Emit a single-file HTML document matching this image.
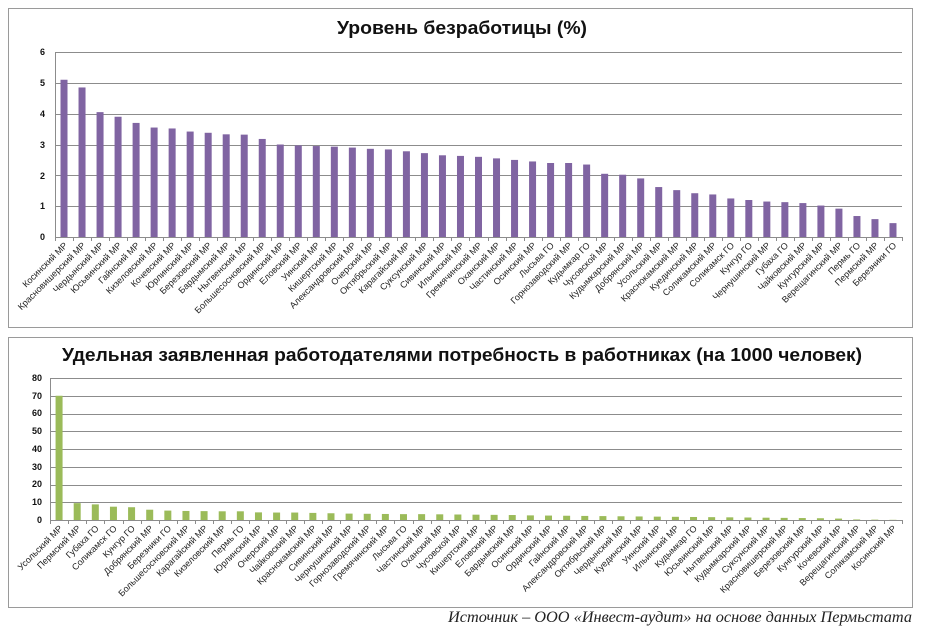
<!DOCTYPE html>
<html><head><meta charset="utf-8">
<style>
html,body{margin:0;padding:0;background:#fff;}
svg{display:block;font-family:"Liberation Sans","DejaVu Sans",sans-serif;}
.t1 text{font-size:9px;fill:#222;}
.ax{font-size:9px;font-weight:bold;fill:#111;}
</style></head>
<body>
<svg id="s" width="930" height="630" viewBox="0 0 930 630" xmlns="http://www.w3.org/2000/svg">
<rect x="8.5" y="8.5" width="904" height="319" fill="#fff" stroke="#9a9a9a"/>
<rect x="8.5" y="337.5" width="904" height="270" fill="#fff" stroke="#9a9a9a"/>
<text x="462" y="34" text-anchor="middle" font-size="18" font-weight="bold" fill="#111" textLength="250" lengthAdjust="spacingAndGlyphs">Уровень безработицы (%)</text>
<text x="462" y="361" text-anchor="middle" font-size="18" font-weight="bold" fill="#111" textLength="800" lengthAdjust="spacingAndGlyphs">Удельная заявленная работодателями потребность в работниках (на 1000 человек)</text>
<text x="912" y="622" text-anchor="end" font-family="Liberation Serif, serif" font-style="italic" font-size="15.5" fill="#222" textLength="464" lengthAdjust="spacingAndGlyphs">Источник – ООО «Инвест-аудит» на основе данных Пермьстата</text>
<g id="g1"></g><g id="g2"></g>
<g class="t1" id="l1">
<text>Косинский  МР</text><text>Красновишерский МР</text><text>Чердынский МР</text><text>Юсьвинский МР</text><text>Гайнский МР</text><text>Кизеловский МР</text><text>Кочевский МР</text><text>Юрлинский МР</text><text>Березовский МР</text><text>Бардымский МР</text><text>Нытвенский МР</text><text>Большесосновский МР</text><text>Ординский МР</text><text>Еловский МР</text><text>Уинский МР</text><text>Кишертский МР</text><text>Александровский МР</text><text>Очерский МР</text><text>Октябрьский МР</text><text>Карагайский МР</text><text>Суксунский МР</text><text>Сивинский МР</text><text>Ильинский МР</text><text>Гремячинский МР</text><text>Оханский МР</text><text>Частинский МР</text><text>Осинский МР</text><text>Лысьва ГО</text><text>Горнозаводский МР</text><text>Кудымкар ГО</text><text>Чусовской МР</text><text>Кудымкарский МР</text><text>Добрянский МР</text><text>Усольский МР</text><text>Краснокамский МР</text><text>Куединский МР</text><text>Соликамский МР</text><text>Соликамск ГО</text><text>Кунгур ГО</text><text>Чернушинский МР</text><text>Губаха ГО</text><text>Чайковский МР</text><text>Кунгурский МР</text><text>Верещагинский МР</text><text>Пермь ГО</text><text>Пермский МР</text><text>Березники ГО</text>
</g>
<g class="t1" id="l2">
<text>Усольский МР</text><text>Пермский МР</text><text>Губаха ГО</text><text>Соликамск ГО</text><text>Кунгур ГО</text><text>Добрянский МР</text><text>Березники ГО</text><text>Большесосновский МР</text><text>Карагайский МР</text><text>Кизеловский МР</text><text>Пермь ГО</text><text>Юрлинский МР</text><text>Очерский МР</text><text>Чайковский МР</text><text>Краснокамский МР</text><text>Сивинский МР</text><text>Чернушинский МР</text><text>Горнозаводский МР</text><text>Гремячинский МР</text><text>Лысьва ГО</text><text>Частинский МР</text><text>Оханский МР</text><text>Чусовской МР</text><text>Кишертский МР</text><text>Еловский МР</text><text>Бардымский МР</text><text>Осинский МР</text><text>Ординский МР</text><text>Гайнский МР</text><text>Александровский МР</text><text>Октябрьский МР</text><text>Чердынский МР</text><text>Куединский МР</text><text>Уинский МР</text><text>Ильинский МР</text><text>Кудымкар ГО</text><text>Юсьвинский МР</text><text>Нытвенский МР</text><text>Кудымкарский МР</text><text>Суксунский МР</text><text>Красновишерский МР</text><text>Березовский МР</text><text>Кунгурский МР</text><text>Кочевский МР</text><text>Верещагинский МР</text><text>Соликамский МР</text><text>Косинский  МР</text>
</g>
<g id="ax1"><text class="ax" x="45" y="55" text-anchor="end">6</text><text class="ax" x="45" y="86" text-anchor="end">5</text><text class="ax" x="45" y="117" text-anchor="end">4</text><text class="ax" x="45" y="148" text-anchor="end">3</text><text class="ax" x="45" y="179" text-anchor="end">2</text><text class="ax" x="45" y="209" text-anchor="end">1</text><text class="ax" x="45" y="240" text-anchor="end">0</text></g>
<g id="ax2"><text class="ax" x="42" y="381" text-anchor="end">80</text><text class="ax" x="42" y="399" text-anchor="end">70</text><text class="ax" x="42" y="416" text-anchor="end">60</text><text class="ax" x="42" y="434" text-anchor="end">50</text><text class="ax" x="42" y="452" text-anchor="end">40</text><text class="ax" x="42" y="470" text-anchor="end">30</text><text class="ax" x="42" y="487" text-anchor="end">20</text><text class="ax" x="42" y="505" text-anchor="end">10</text><text class="ax" x="42" y="523" text-anchor="end">0</text></g>
</svg>
<script>
var NS="http://www.w3.org/2000/svg";
function el(p,n,a){var e=document.createElementNS(NS,n);for(var k in a)e.setAttribute(k,a[k]);p.appendChild(e);return e;}
function chart(g,lab,vals,x0,x1,y0,ytop,max,step,color){
  var n=vals.length,w=(x1-x0)/n,sc=(y0-ytop)/max;
  for(var v=step;v<=max;v+=step){var y=Math.round(y0-v*sc)+0.5;el(g,"line",{x1:x0,x2:x1,y1:y,y2:y,stroke:"#8c8c8c","stroke-width":1});}
  el(g,"line",{x1:x0+0.5,x2:x0+0.5,y1:ytop,y2:y0+4,stroke:"#8c8c8c"});
  el(g,"line",{x1:x0,x2:x1,y1:y0+0.5,y2:y0+0.5,stroke:"#8c8c8c"});
  for(var i=0;i<=n;i++){var x=Math.round(x0+i*w)+0.5;el(g,"line",{x1:x,x2:x,y1:y0,y2:y0+4,stroke:"#8c8c8c"});}
  var ts=document.getElementById(lab).getElementsByTagName("text");
  for(var i=0;i<n;i++){var cx=x0+(i+0.5)*w,h=vals[i]*sc;
    el(g,"rect",{x:cx-3.5,y:y0-h,width:7,height:h,fill:color});
    var t=ts[i];t.setAttribute("text-anchor","end");t.setAttribute("transform","translate("+(cx+4)+","+(y0+9)+") rotate(-45)");}
}
chart(document.getElementById("g1"),"l1",[5.1,4.85,4.05,3.9,3.7,3.55,3.52,3.42,3.38,3.33,3.32,3.18,3.0,2.97,2.95,2.93,2.9,2.86,2.84,2.78,2.72,2.65,2.63,2.6,2.55,2.5,2.45,2.4,2.4,2.35,2.05,2.02,1.9,1.62,1.52,1.42,1.38,1.25,1.2,1.15,1.13,1.1,1.02,0.92,0.68,0.58,0.45],55,902,237,52,6,1,"#8064a2");
chart(document.getElementById("g2"),"l2",[70,9.5,8.8,7.5,7.2,5.8,5.3,5.1,5,4.9,4.9,4.3,4.2,4.2,4,3.8,3.6,3.5,3.4,3.3,3.3,3.2,3.1,3.0,2.9,2.8,2.6,2.5,2.4,2.3,2.2,2.1,2.0,1.9,1.8,1.7,1.6,1.5,1.4,1.3,1.2,1.1,1.0,0.8,0.3,0.2,0.1],50,902,520,378,80,10,"#9bbb59");
</script>
</body></html>
